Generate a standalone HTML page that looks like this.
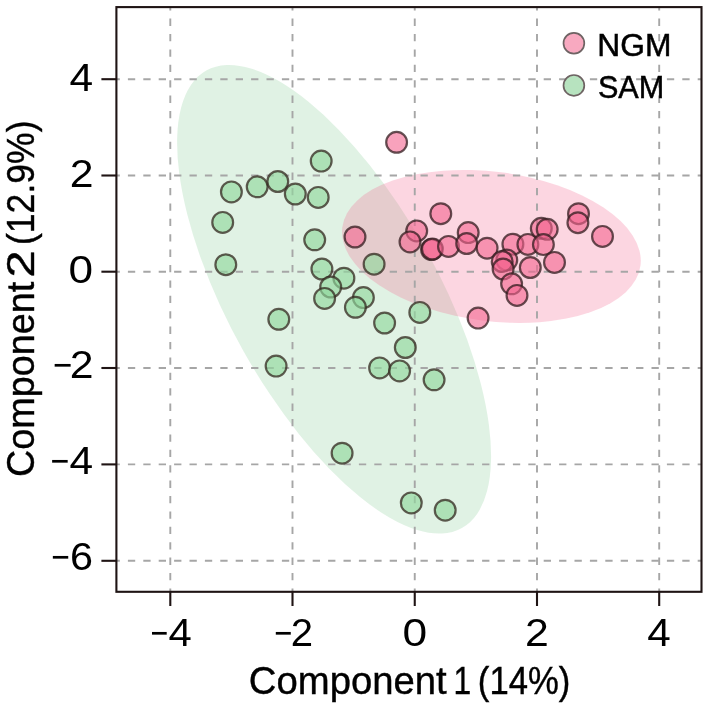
<!DOCTYPE html>
<html lang="en"><head><meta charset="utf-8"><title>PCA scatter plot</title>
<style>html,body{margin:0;padding:0;background:#fff}body{width:709px;height:708px;overflow:hidden}svg{display:block}text{font-family:"Liberation Sans", Arial, Helvetica, sans-serif;fill:#000}</style></head><body>
<svg width="709" height="708" viewBox="0 0 709 708">
<rect width="709" height="708" fill="#fff"/>
<g>
<ellipse cx="334.1" cy="299.3" rx="262" ry="104.4" transform="rotate(60.8 334.1 299.3)" fill="#8fd19e" fill-opacity="0.28"/>
<ellipse cx="491.4" cy="246.4" rx="150.3" ry="74.7" transform="rotate(7.3 491.4 246.4)" fill="#f4678f" fill-opacity="0.27"/>
</g>
<g stroke="#a6a6a6" stroke-width="1.9" stroke-dasharray="7.3 8.1" stroke-dashoffset="3.9" fill="none">
<line x1="170.3" y1="591.8" x2="170.3" y2="7.1"/>
<line x1="292.5" y1="591.8" x2="292.5" y2="7.1"/>
<line x1="414.75" y1="591.8" x2="414.75" y2="7.1"/>
<line x1="537.0" y1="591.8" x2="537.0" y2="7.1"/>
<line x1="659.2" y1="591.8" x2="659.2" y2="7.1"/>
<line x1="116.4" y1="79.2" x2="701.5" y2="79.2"/>
<line x1="116.4" y1="175.5" x2="701.5" y2="175.5"/>
<line x1="116.4" y1="271.7" x2="701.5" y2="271.7"/>
<line x1="116.4" y1="368.0" x2="701.5" y2="368.0"/>
<line x1="116.4" y1="464.4" x2="701.5" y2="464.4"/>
<line x1="116.4" y1="560.8" x2="701.5" y2="560.8"/>
</g>
<g fill="#90d89d" fill-opacity="0.64" stroke="#33291f" stroke-opacity="0.76" stroke-width="2.2">
<circle cx="231.4" cy="191.9" r="10.4"/>
<circle cx="257.2" cy="186.8" r="10.4"/>
<circle cx="277.8" cy="181.5" r="10.4"/>
<circle cx="295.3" cy="194" r="10.4"/>
<circle cx="318.2" cy="197.4" r="10.4"/>
<circle cx="321.2" cy="161.1" r="10.4"/>
<circle cx="222.7" cy="222.4" r="10.4"/>
<circle cx="225.8" cy="264.7" r="10.4"/>
<circle cx="314.7" cy="239.8" r="10.4"/>
<circle cx="321.9" cy="269.0" r="10.4"/>
<circle cx="343.9" cy="278.2" r="10.4"/>
<circle cx="330.7" cy="287.0" r="10.4"/>
<circle cx="324.6" cy="298.4" r="10.4"/>
<circle cx="363.4" cy="297.6" r="10.4"/>
<circle cx="355.4" cy="307.3" r="10.4"/>
<circle cx="374.1" cy="264.2" r="10.4"/>
<circle cx="278.8" cy="319.3" r="10.4"/>
<circle cx="384.6" cy="323.0" r="10.4"/>
<circle cx="419.8" cy="312.4" r="10.4"/>
<circle cx="405.3" cy="347.5" r="10.4"/>
<circle cx="276.1" cy="366.1" r="10.4"/>
<circle cx="379.6" cy="367.9" r="10.4"/>
<circle cx="399.6" cy="370.9" r="10.4"/>
<circle cx="434.1" cy="379.8" r="10.4"/>
<circle cx="342.1" cy="453.2" r="10.4"/>
<circle cx="411.3" cy="502.9" r="10.4"/>
<circle cx="445.2" cy="510.2" r="10.4"/>
</g>
<g fill="#f4648f" fill-opacity="0.6" stroke="#331d20" stroke-opacity="0.76" stroke-width="2.2">
<circle cx="396.6" cy="142.3" r="10.4"/>
<circle cx="355.0" cy="237.0" r="10.4"/>
<circle cx="440.8" cy="213.7" r="10.4"/>
<circle cx="416.7" cy="230.9" r="10.4"/>
<circle cx="410.0" cy="241.9" r="10.4"/>
<circle cx="431.5" cy="249.6" r="10.4"/>
<circle cx="432.4" cy="249.0" r="10.4"/>
<circle cx="448.5" cy="246.4" r="10.4"/>
<circle cx="468.2" cy="232.6" r="10.4"/>
<circle cx="466.7" cy="243.5" r="10.4"/>
<circle cx="487.1" cy="248.2" r="10.4"/>
<circle cx="512.9" cy="244.2" r="10.4"/>
<circle cx="506.8" cy="260.0" r="10.4"/>
<circle cx="502.2" cy="261.5" r="10.4"/>
<circle cx="503.1" cy="269.0" r="10.4"/>
<circle cx="511.6" cy="283.8" r="10.4"/>
<circle cx="517.0" cy="295.4" r="10.4"/>
<circle cx="527.9" cy="244.4" r="10.4"/>
<circle cx="530.3" cy="267.5" r="10.4"/>
<circle cx="541.3" cy="228.3" r="10.4"/>
<circle cx="547.2" cy="229.3" r="10.4"/>
<circle cx="543.4" cy="244.6" r="10.4"/>
<circle cx="554.5" cy="262.4" r="10.4"/>
<circle cx="578.5" cy="213.7" r="10.4"/>
<circle cx="577.9" cy="222.7" r="10.4"/>
<circle cx="602.5" cy="236.4" r="10.4"/>
<circle cx="478.1" cy="318.1" r="10.4"/>
</g>
<rect x="116.4" y="7.1" width="585.1" height="584.7" fill="none" stroke="#1f1414" stroke-width="2.1"/>
<g stroke="#1f1414" stroke-width="2.1">
<line x1="170.3" y1="591.8" x2="170.3" y2="606.0"/>
<line x1="292.5" y1="591.8" x2="292.5" y2="606.0"/>
<line x1="414.75" y1="591.8" x2="414.75" y2="606.0"/>
<line x1="537.0" y1="591.8" x2="537.0" y2="606.0"/>
<line x1="659.2" y1="591.8" x2="659.2" y2="606.0"/>
<line x1="116.4" y1="79.2" x2="101.4" y2="79.2"/>
<line x1="116.4" y1="175.5" x2="101.4" y2="175.5"/>
<line x1="116.4" y1="271.7" x2="101.4" y2="271.7"/>
<line x1="116.4" y1="368.0" x2="101.4" y2="368.0"/>
<line x1="116.4" y1="464.4" x2="101.4" y2="464.4"/>
<line x1="116.4" y1="560.8" x2="101.4" y2="560.8"/>
</g>
<text y="646.3" font-size="38.3"><tspan x="150.51" textLength="17.67" lengthAdjust="spacingAndGlyphs">−</tspan><tspan x="168.54" textLength="23.29" lengthAdjust="spacingAndGlyphs">4</tspan></text>
<text y="646.3" font-size="38.3"><tspan x="274.28" textLength="18.03" lengthAdjust="spacingAndGlyphs">−</tspan><tspan x="290.78" textLength="22.34" lengthAdjust="spacingAndGlyphs">2</tspan></text>
<text y="646.3" font-size="38.3"><tspan x="402.42" textLength="24.66" lengthAdjust="spacingAndGlyphs">0</tspan></text>
<text y="646.3" font-size="38.3"><tspan x="524.95" textLength="23.81" lengthAdjust="spacingAndGlyphs">2</tspan></text>
<text y="646.3" font-size="38.3"><tspan x="647.33" textLength="23.51" lengthAdjust="spacingAndGlyphs">4</tspan></text>
<text y="91.2" font-size="38.3"><tspan x="69.63" textLength="23.62" lengthAdjust="spacingAndGlyphs">4</tspan></text>
<text y="186.9" font-size="38.3"><tspan x="69.85" textLength="23.81" lengthAdjust="spacingAndGlyphs">2</tspan></text>
<text y="282.5" font-size="38.3"><tspan x="68.58" textLength="24.55" lengthAdjust="spacingAndGlyphs">0</tspan></text>
<text y="378.2" font-size="38.3"><tspan x="53.08" textLength="19.23" lengthAdjust="spacingAndGlyphs">−</tspan><tspan x="69.85" textLength="23.81" lengthAdjust="spacingAndGlyphs">2</tspan></text>
<text y="474.0" font-size="38.3"><tspan x="50.52" textLength="18.75" lengthAdjust="spacingAndGlyphs">−</tspan><tspan x="69.63" textLength="23.62" lengthAdjust="spacingAndGlyphs">4</tspan></text>
<text y="569.8" font-size="38.3"><tspan x="51.24" textLength="18.51" lengthAdjust="spacingAndGlyphs">−</tspan><tspan x="69.90" textLength="23.02" lengthAdjust="spacingAndGlyphs">6</tspan></text>
<text y="694.3" font-size="38" stroke="#000" stroke-width="0.4"><tspan x="248.86" textLength="197.82" lengthAdjust="spacingAndGlyphs">Component</tspan> <tspan x="453.38" textLength="17.67" lengthAdjust="spacingAndGlyphs">1</tspan> <tspan x="477.85" textLength="92.50" lengthAdjust="spacingAndGlyphs">(14%)</tspan></text>
<text transform="translate(33.5 0) rotate(-90)" font-size="38" stroke="#000" stroke-width="0.4"><tspan x="-476.92" textLength="195.19" lengthAdjust="spacingAndGlyphs">Component</tspan> <tspan x="-277.79" textLength="27.59" lengthAdjust="spacingAndGlyphs">2</tspan> <tspan x="-245.01" textLength="124.51" lengthAdjust="spacingAndGlyphs">(12.9%)</tspan></text>
<circle cx="573.9" cy="43.2" r="10.4" fill="#f8a9c0" stroke="#6e6363" stroke-width="1.7"/>
<circle cx="573.9" cy="85.4" r="10.4" fill="#b7e3bf" stroke="#6e6363" stroke-width="1.7"/>
<text y="55.5" font-size="31.4" stroke="#000" stroke-width="0.5"><tspan x="597.39" textLength="74.11" lengthAdjust="spacingAndGlyphs">NGM</tspan></text>
<text y="97.6" font-size="31.4" stroke="#000" stroke-width="0.5"><tspan x="597.91" textLength="66.30" lengthAdjust="spacingAndGlyphs">SAM</tspan></text>
</svg></body></html>
